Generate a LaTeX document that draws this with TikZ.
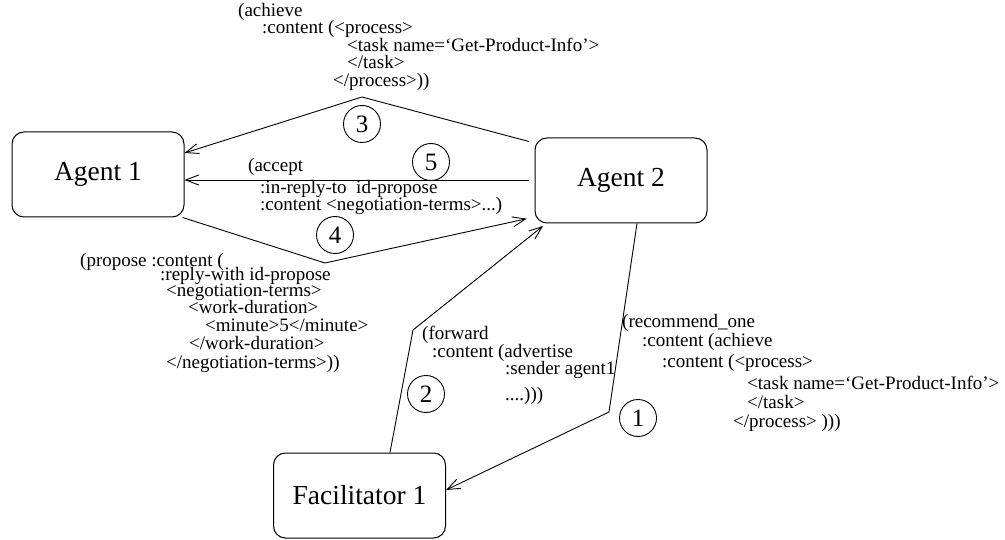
\documentclass[tikz,border=0pt]{standalone}
\usepackage{fontspec}
\setmainfont{Liberation Serif}
\usetikzlibrary{arrows.meta,calc}
\tikzset{
  agentbox/.style={draw, rounded corners=12pt, minimum width=172pt, minimum height=85pt, inner sep=0pt, line width=1pt, font=\fontsize{27.5}{30}\selectfont},
  lbl/.style={anchor=base west, inner sep=0pt, font=\fontsize{19}{20}\selectfont},
  num/.style={draw, circle, minimum size=37pt, inner sep=0pt, line width=0.9pt, font=\fontsize{25}{26}\selectfont},
  conn/.style={line width=0.9pt},
  arr/.style={conn, -{Straight Barb[length=13pt,width=10pt,line width=0.9pt]}}
}
\begin{document}
\begin{tikzpicture}[x=1pt,y=-1pt]
\useasboundingbox (0,0) rectangle (1005,540);
% boxes
\node[agentbox] (a1) at (98,174.5) {Agent 1};
\node[agentbox] (a2) at (621,180.5) {Agent 2};
\node[agentbox] (f1) at (359.5,495.5) {Facilitator 1};
% bend points
\coordinate (b3) at (362,97);
\coordinate (b4) at (325,263);
\coordinate (b2) at (413,330);
\coordinate (b1) at (609,412);
% connectors
\draw[arr, shorten <=6pt] (a2.west |- 0,143) -- (b3) -- (a1.east |- 0,153);
\draw[arr, shorten <=6pt] (a2.west |- 0,180) -- (a1.east |- 0,180);
\draw[arr, shorten >=8pt] (a1.south east) ++(-2,0) coordinate (s4) -- (b4) -- (a2.west |- 0,217);
\draw[arr] (f1.north -| 390,0) -- (b2) -- (543,226) coordinate (e2);
\draw[arr] (a2.south -| 637,0) -- (b1) -- (f1.east |- 0,490);
% numbers
\node[num] (n3) at (362,124) {3};
\node[num] (n5) at (431,162) {5};
\node[num] (n4) at (335,235) {4};
\node[num] (n2) at (426,394) {2};
\node[num] (n1) at (638,418) {1};
% achieve text (3)
\node[lbl] (t31) at (238,17) {(achieve};
\node[lbl] (t32) at (262,34) {:content (<process>};
\node[lbl] (t33) at (347,52) {<task name=‘Get-Product-Info’>};
\node[lbl] (t34) at (347,69) {</task>};
\node[lbl] (t35) at (333,87) {</process>))};
% accept text (5)
\node[lbl] (t51) at (248,172) {(accept};
\node[lbl] (t52) at (260,194) {:in-reply-to~~id-propose};
\node[lbl] (t53) at (260,211) {:content <negotiation-terms>...)};
% propose text (4)
\node[lbl] (t41) at (80,267) {(propose :content (};
\node[lbl] (t42) at (160,281) {:reply-with id-propose};
\node[lbl] (t43) at (166,297) {<negotiation-terms>};
\node[lbl] (t44) at (188,314) {<work-duration>};
\node[lbl] (t45) at (205,331) {<minute>5</minute>};
\node[lbl] (t46) at (189,349) {</work-duration>};
\node[lbl] (t47) at (166,368) {</negotiation-terms>))};
% forward text (2)
\node[lbl] (t21) at (422,340) {(forward};
\node[lbl] (t22) at (432,357) {:content (advertise};
\node[lbl] (t23) at (505,374) {:sender agent1};
\node[lbl] (t24) at (505,400) {....)))};
% recommend text (1)
\node[lbl] (t11) at (622,328) {(recommend\_one};
\node[lbl] (t12) at (642,347) {:content (achieve};
\node[lbl] (t13) at (662,367) {:content (<process>};
\node[lbl] (t14) at (747,389) {<task name=‘Get-Product-Info’>};
\node[lbl] (t15) at (747,408) {</task>};
\node[lbl] (t16) at (733,427) {</process> )))};
\end{tikzpicture}
\end{document}
